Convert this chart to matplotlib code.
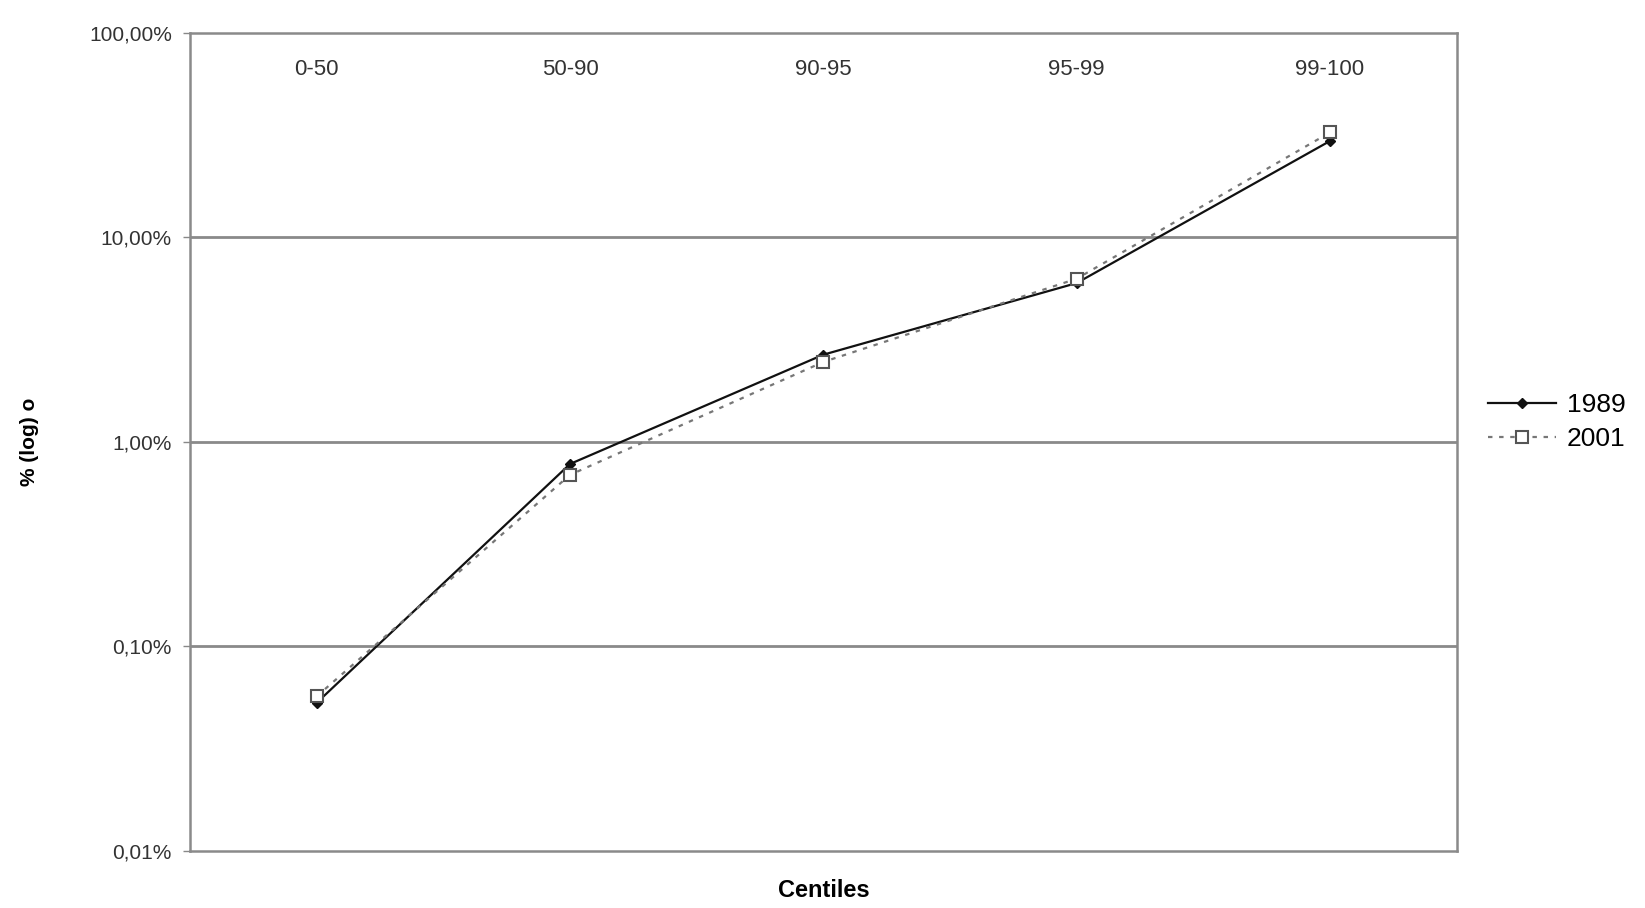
import matplotlib
matplotlib.use("Agg")
import matplotlib.pyplot as plt
from matplotlib.ticker import FixedLocator, NullLocator

plt.rcParams['font.family'] = ['Liberation Sans', 'DejaVu Sans']

centiles = ['0-50', '50-90', '90-95', '95-99', '99-100']
share_1989 = [0.053, 0.78, 2.67, 5.98, 29.6]
share_2001 = [0.057, 0.69, 2.46, 6.28, 32.6]
yticks = [0.01, 0.1, 1, 10, 100]
ytick_labels = ['0,01%', '0,10%', '1,00%', '10,00%', '100,00%']

fig = plt.figure(figsize=(16.45, 9.08), dpi=100)
ax = fig.add_axes([0.1155, 0.0628, 0.77, 0.901])

x = list(range(len(centiles)))
l1, = ax.plot(x, share_1989, color='#111111', lw=1.6, marker='D', ms=5,
              mfc='#111111', mec='#111111', label='1989', zorder=3)
l2, = ax.plot(x, share_2001, color='#777777', lw=1.6, ls=(0, (2, 3)),
              marker='s', ms=9, mfc='white', mec='#555555', mew=1.5,
              label='2001', zorder=4)

ax.set_yscale('log')
ax.set_ylim(0.01, 100)
ax.set_xlim(-0.5, len(centiles) - 0.5)
ax.yaxis.set_major_locator(FixedLocator(yticks))
ax.yaxis.set_minor_locator(NullLocator())
ax.set_yticklabels(ytick_labels)
ax.tick_params(axis='y', length=5, width=1, color='#888888',
               labelsize=15, labelcolor='#333333', pad=8)
ax.set_xticks([])

# horizontal gridlines at each decade
for v in yticks[1:-1]:
    ax.axhline(v, color='#8a8a8a', lw=2, zorder=1)

for s in ax.spines.values():
    s.set_color('#8a8a8a')
    s.set_linewidth(1.8)

# category labels sit inside the top of the plot area
for i, c in enumerate(centiles):
    ax.text(i, 0.955, c, transform=ax.get_xaxis_transform(),
            ha='center', va='center', fontsize=16, color='#333333')

ax.set_ylabel('% (log) o', fontsize=15, fontweight='bold', labelpad=36)
ax.set_xlabel('Centiles', fontsize=17, fontweight='bold', labelpad=20)

fig.legend(handles=[l1, l2], loc='center left', bbox_to_anchor=(0.89, 0.535),
           frameon=False, fontsize=19, handlelength=2.6, handletextpad=0.4,
           labelspacing=0.4)

fig.savefig('out.png', dpi=100, facecolor='white')
